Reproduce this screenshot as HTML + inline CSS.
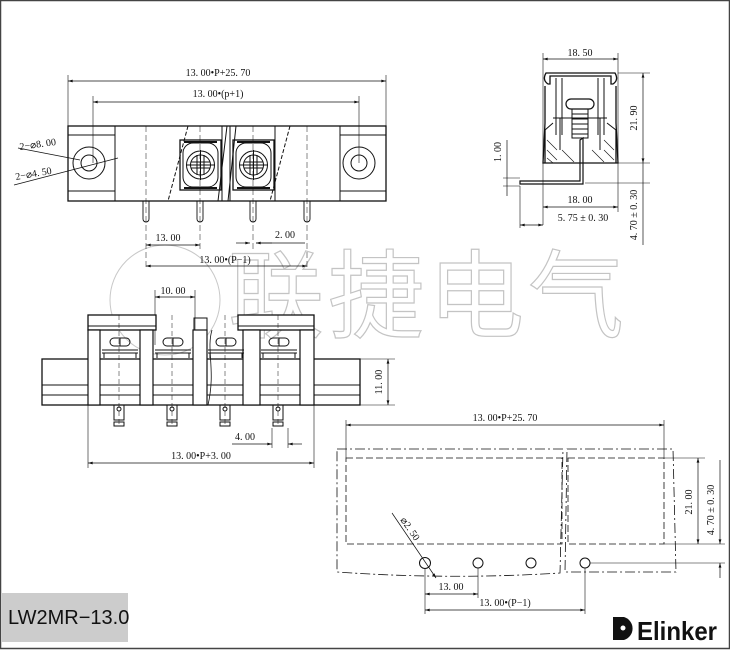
<!DOCTYPE html>
<html><head><meta charset="utf-8"><style>
html,body{margin:0;padding:0;background:#fff}
svg{display:block}
text{font-family:"Liberation Serif",serif;font-size:10px;fill:#111}
</style></head><body>
<svg width="730" height="650" viewBox="0 0 730 650" xmlns="http://www.w3.org/2000/svg">
<defs>
<marker id="a" viewBox="0 0 10 6" refX="10" refY="3" markerWidth="8" markerHeight="4" orient="auto-start-reverse"><path d="M0,0L10,3L0,6z" fill="#111"/></marker>
</defs>
<rect x="0.5" y="0.5" width="729" height="648" fill="none" stroke="#444" stroke-width="1.5"/>
<!-- watermark -->
<g fill="none" stroke="#c8c8c8" stroke-width="1">
<circle cx="165" cy="300" r="55"/>
<text x="228" y="330" style="font-family:'Noto Sans CJK SC',sans-serif;font-size:96px;fill:none;stroke:#c4c4c4;stroke-width:1.2;letter-spacing:4px">联捷电气</text>
</g>
<g stroke="#111" fill="none" stroke-width="1">
<!-- TOP VIEW -->
<line x1="68" y1="75" x2="68" y2="126" stroke-width="0.6"/><line x1="386" y1="75" x2="386" y2="126" stroke-width="0.6"/>
<line x1="68" y1="81" x2="386" y2="81" marker-start="url(#a)" marker-end="url(#a)" stroke-width="0.7"/>
<line x1="93" y1="96" x2="93" y2="163" stroke-width="0.6"/><line x1="359" y1="96" x2="359" y2="163" stroke-width="0.6"/>
<line x1="93" y1="102" x2="359" y2="102" marker-start="url(#a)" marker-end="url(#a)" stroke-width="0.7"/>
<rect x="68" y="126" width="318" height="75" stroke-width="1.3"/>
<line x1="115" y1="126" x2="115" y2="201"/><line x1="340" y1="126" x2="340" y2="201"/>
<line x1="68" y1="135" x2="115" y2="135"/><line x1="68" y1="191" x2="115" y2="191"/>
<line x1="340" y1="135" x2="386" y2="135"/><line x1="340" y1="191" x2="386" y2="191"/>
<circle cx="89" cy="163" r="16"/><circle cx="89" cy="163" r="8"/>
<circle cx="359" cy="163" r="16"/><circle cx="359" cy="163" r="8"/>
<line x1="18" y1="148" x2="80" y2="160" stroke-width="0.7"/><line x1="14" y1="185" x2="118" y2="158" stroke-width="0.7"/>
<g stroke-dasharray="6,3" stroke-width="0.5"><line x1="146" y1="126" x2="146" y2="268"/><line x1="200" y1="126" x2="200" y2="250"/><line x1="253" y1="126" x2="253" y2="250"/><line x1="307" y1="126" x2="307" y2="268"/></g>
<path d="M188,126 L168,201 M290,126 L270,201" stroke-dasharray="4,2"/>
<path d="M222,126 V201 M230,126 V201 M275,126 V201 M227,126 L218,201 M236,126 L228,201"/>
<g id="s">
<rect x="180" y="140" width="41" height="50" stroke-width="1.3"/>
<rect x="183" y="143" width="35" height="44" rx="10"/>
<circle cx="200.5" cy="165" r="14"/><circle cx="200.5" cy="165" r="10"/>
<path d="M197,155V175M204,155V175M191,162H210M191,168H210M200.5,150V180M186,165H215"/>
<line x1="184" y1="142" x2="217" y2="142" stroke-width="2"/><line x1="184" y1="188" x2="217" y2="188" stroke-width="2"/>
</g>
<use href="#s" x="53"/>
<g stroke-width="0.9"><path d="M143,201V219a3,3 0 0 0 6,0V201"/><path d="M197,201V219a3,3 0 0 0 6,0V201"/><path d="M250,201V219a3,3 0 0 0 6,0V201"/><path d="M304,201V219a3,3 0 0 0 6,0V201"/></g>
<line x1="146" y1="245" x2="200" y2="245" marker-start="url(#a)" marker-end="url(#a)" stroke-width="0.7"/>
<line x1="236" y1="243" x2="250" y2="243" marker-end="url(#a)" stroke-width="0.7"/><line x1="272" y1="243" x2="256" y2="243" marker-end="url(#a)" stroke-width="0.7"/>
<line x1="256" y1="243" x2="305" y2="243" stroke-width="0.7"/>
<line x1="146" y1="266" x2="307" y2="266" marker-start="url(#a)" marker-end="url(#a)" stroke-width="0.7"/>
<!-- FRONT VIEW -->
<line x1="155" y1="290" x2="155" y2="345" stroke-width="0.6"/><line x1="195" y1="290" x2="195" y2="345" stroke-width="0.6"/>
<line x1="155" y1="297" x2="195" y2="297" marker-start="url(#a)" marker-end="url(#a)" stroke-width="0.7"/>
<rect x="42" y="359" width="318" height="46" stroke-width="1.3"/>
<line x1="42" y1="385" x2="360" y2="385"/><line x1="42" y1="395" x2="360" y2="395"/>
<rect x="88" y="315" width="68" height="15" fill="#fff" stroke-width="1.3"/><line x1="88" y1="326" x2="156" y2="326"/>
<rect x="238" y="315" width="76" height="15" fill="#fff" stroke-width="1.3"/><line x1="238" y1="326" x2="314" y2="326"/>
<rect x="194" y="318" width="13" height="12"/>
<g fill="#fff" stroke-width="1.2">
<rect x="88" y="330" width="12" height="75"/><rect x="140" y="330" width="13" height="75"/><rect x="193" y="330" width="14" height="75"/><rect x="243" y="330" width="17" height="75"/><rect x="300" y="330" width="14" height="75"/>
</g>
<g id="f">
<rect x="110" y="338" width="20" height="8" rx="4"/><line x1="120" y1="338" x2="120" y2="346"/>
<path d="M102,350H138M102,353H138M104,353V358M136,353V358"/>
<path d="M114,405V420H124V405M114,422H124V426H114Z"/><circle cx="119" cy="409" r="2"/>
<line x1="119" y1="315" x2="119" y2="426" stroke-dasharray="5,3" stroke-width="0.5"/>
</g>
<use href="#f" x="53"/><use href="#f" x="106"/><use href="#f" x="159"/>
<path d="M212,330 C206,350 216,370 208,405" stroke-width="0.8"/>
<line x1="88" y1="405" x2="88" y2="468" stroke-width="0.6"/><line x1="314" y1="405" x2="314" y2="468" stroke-width="0.6"/>
<line x1="88" y1="463" x2="314" y2="463" marker-start="url(#a)" marker-end="url(#a)" stroke-width="0.7"/>
<line x1="272" y1="428" x2="272" y2="448" stroke-width="0.6"/><line x1="288" y1="428" x2="288" y2="448" stroke-width="0.6"/>
<line x1="232" y1="444" x2="272" y2="444" marker-end="url(#a)" stroke-width="0.7"/><line x1="302" y1="444" x2="288" y2="444" marker-end="url(#a)" stroke-width="0.7"/>
<line x1="360" y1="359" x2="395" y2="359" stroke-width="0.6"/><line x1="360" y1="405" x2="395" y2="405" stroke-width="0.6"/>
<line x1="388" y1="359" x2="388" y2="405" marker-start="url(#a)" marker-end="url(#a)" stroke-width="0.7"/>
<!-- SIDE VIEW -->
<line x1="543" y1="53" x2="543" y2="225" stroke-width="0.6"/><line x1="618" y1="53" x2="618" y2="212" stroke-width="0.6"/>
<line x1="543" y1="59" x2="618" y2="59" marker-start="url(#a)" marker-end="url(#a)" stroke-width="0.7"/>
<path d="M546,73 Q542,80 548,84 L550,84 L550,76 L611,76 L611,84 L613,84 Q619,80 615,73 Z" stroke-width="1.3"/>
<path d="M545,86 L545,123 L543,163 L618,163 L616,123 L616,86" stroke-width="1.3"/>
<path d="M556,78V135M562,78V135M598,78V135M604,78V135"/>
<rect x="566" y="99" width="28" height="10" rx="5" stroke-width="1.2"/>
<path d="M572,109V138H588V109M572,114H588M572,119H588M572,124H588M572,129H588M572,134H588"/>
<path d="M553,118H607M560,118V150M600,118V150M553,123L545,130M607,123L616,130"/>
<path d="M545,130V163M616,130V163" stroke-width="1.3"/>
<g stroke-width="0.6"><path d="M547,140L557,150M547,150L557,160M547,158L553,163M604,140L614,150M604,150L614,160M592,150L604,162M562,150L574,162"/></g>
<path d="M583,138 L580,140 L580,181 L520,181 L520,184 L583,184 Z" stroke-width="1.2"/>
<line x1="618" y1="73" x2="650" y2="73" stroke-width="0.6"/><line x1="618" y1="163" x2="650" y2="163" stroke-width="0.6"/>
<line x1="643" y1="73" x2="643" y2="163" marker-start="url(#a)" marker-end="url(#a)" stroke-width="0.7"/>
<line x1="585" y1="183" x2="650" y2="183" stroke-width="0.6"/>
<line x1="643" y1="163" x2="643" y2="183" stroke-width="0.7"/><line x1="643" y1="183" x2="643" y2="245" stroke-width="0.7"/>
<line x1="543" y1="207" x2="618" y2="207" marker-start="url(#a)" marker-end="url(#a)" stroke-width="0.7"/>
<line x1="520" y1="186" x2="520" y2="228" stroke-width="0.6"/>
<line x1="520" y1="225" x2="543" y2="225" marker-start="url(#a)" marker-end="url(#a)" stroke-width="0.7"/>
<line x1="503" y1="178" x2="520" y2="178" stroke-width="0.6"/><line x1="503" y1="186" x2="520" y2="186" stroke-width="0.6"/>
<line x1="507" y1="140" x2="507" y2="196" stroke-width="0.7"/>
<!-- BOTTOM VIEW -->
<line x1="346" y1="420" x2="346" y2="458" stroke-width="0.6"/><line x1="664" y1="420" x2="664" y2="458" stroke-width="0.6"/>
<line x1="346" y1="425" x2="664" y2="425" marker-start="url(#a)" marker-end="url(#a)" stroke-width="0.7"/>
<path d="M337,449 L563,449 L560,573 Q450,580 337,572 Z M567,449 L673,449 L676,572 L565,572 Z" stroke-dasharray="10,3,2,3" stroke-width="0.8"/>
<path d="M346,458H562V544H346Z M568,458H664V544H568Z" stroke-dasharray="7,3" stroke-width="0.8"/>
<circle cx="425" cy="563" r="5.5"/><circle cx="478" cy="563" r="5"/><circle cx="531" cy="563" r="5"/><circle cx="585" cy="563" r="5"/>
<line x1="392" y1="513" x2="436" y2="578" stroke-width="0.7" marker-end="url(#a)"/>
<line x1="590" y1="563" x2="725" y2="563" stroke-width="0.6"/>
<line x1="664" y1="458" x2="705" y2="458" stroke-width="0.6"/><line x1="664" y1="544" x2="725" y2="544" stroke-width="0.6"/>
<line x1="698" y1="458" x2="698" y2="544" marker-start="url(#a)" marker-end="url(#a)" stroke-width="0.7"/>
<line x1="720" y1="525" x2="720" y2="544" marker-end="url(#a)" stroke-width="0.7"/><line x1="720" y1="578" x2="720" y2="563" marker-end="url(#a)" stroke-width="0.7"/>
<line x1="720" y1="460" x2="720" y2="525" stroke-width="0.7"/>
<line x1="425" y1="568" x2="425" y2="614" stroke-width="0.6"/><line x1="478" y1="568" x2="478" y2="598" stroke-width="0.6"/><line x1="585" y1="568" x2="585" y2="614" stroke-width="0.6"/>
<line x1="425" y1="594" x2="478" y2="594" marker-start="url(#a)" marker-end="url(#a)" stroke-width="0.7"/>
<line x1="425" y1="610" x2="585" y2="610" marker-start="url(#a)" marker-end="url(#a)" stroke-width="0.7"/>
</g>
<!-- labels -->
<text x="218" y="76" text-anchor="middle">13. 00•P+25. 70</text>
<text x="218" y="97" text-anchor="middle">13. 00•(p+1)</text>
<text x="20" y="150" transform="rotate(-8 20 150)">2−⌀8. 00</text>
<text x="16" y="180" transform="rotate(-10 16 180)">2−⌀4. 50</text>
<text x="168" y="241" text-anchor="middle">13. 00</text>
<text x="285" y="238" text-anchor="middle">2. 00</text>
<text x="225" y="263" text-anchor="middle">13. 00•(P−1)</text>
<text x="173" y="294" text-anchor="middle">10. 00</text>
<text x="245" y="440" text-anchor="middle">4. 00</text>
<text x="201" y="459" text-anchor="middle">13. 00•P+3. 00</text>
<text x="382" y="382" text-anchor="middle" transform="rotate(-90 382 382)">11. 00</text>
<text x="580" y="56" text-anchor="middle">18. 50</text>
<text x="637" y="118" text-anchor="middle" transform="rotate(-90 637 118)">21. 90</text>
<text x="501" y="152" text-anchor="middle" transform="rotate(-90 501 152)">1. 00</text>
<text x="580" y="203" text-anchor="middle">18. 00</text>
<text x="583" y="221" text-anchor="middle">5. 75 ± 0. 30</text>
<text x="637" y="215" text-anchor="middle" transform="rotate(-90 637 215)">4. 70 ± 0. 30</text>
<text x="505" y="421" text-anchor="middle">13. 00•P+25. 70</text>
<text x="692" y="502" text-anchor="middle" transform="rotate(-90 692 502)">21. 00</text>
<text x="714" y="510" text-anchor="middle" transform="rotate(-90 714 510)">4. 70 ± 0. 30</text>
<text x="400" y="520" transform="rotate(55 400 520)">⌀2. 50</text>
<text x="451" y="590" text-anchor="middle">13. 00</text>
<text x="505" y="606" text-anchor="middle">13. 00•(P−1)</text>
<rect x="2" y="593" width="126" height="49" fill="#cccccc"/>
<text x="8" y="624" style="font-family:'Liberation Sans',sans-serif;font-size:20px;fill:#111">LW2MR−13.0</text>
<g>
<path d="M613,640 V617 H624 A12,12 0 0 1 624,640 Z" fill="#111"/>
<circle cx="623" cy="628" r="2.5" fill="#fff"/>
<text x="637" y="640" style="font-family:'Liberation Sans',sans-serif;font-size:26px;font-weight:bold;fill:#111" textLength="80" lengthAdjust="spacingAndGlyphs">Elinker</text>
</g>
</svg>
</body></html>
